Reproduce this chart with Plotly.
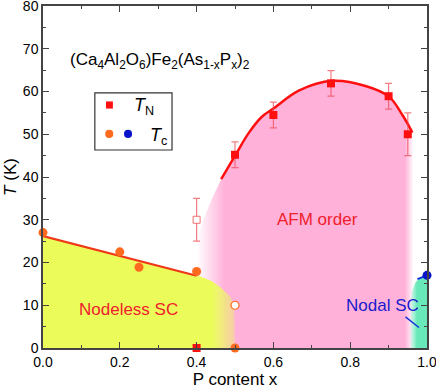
import plotly.graph_objects as go

# --- data ---
tn_x = [0.5, 0.6, 0.75, 0.9, 0.95]
tn_y = [45.2, 54.5, 61.9, 58.9, 50.0]
tn_err = [3, 3, 3, 3, 5]

tn_open_x = [0.4]
tn_open_y = [30]
tn_open_err = [5]

tn_zero_x = [0.4]
tn_zero_y = [0]

tc_x = [0.0, 0.2, 0.25, 0.4, 0.5]
tc_y = [27.0, 22.5, 18.9, 17.9, 0.0]

tc_open_x = [0.5]
tc_open_y = [10]

tc_nodal_x = [1.0]
tc_nodal_y = [17]

# fitted curves
tn_fit_x = [0.464, 0.501, 0.535, 0.570, 0.600, 0.666, 0.753, 0.840, 0.901, 0.936, 0.962]
tn_fit_y = [39.5, 45.1, 50.2, 54.1, 56.0, 60.2, 62.5, 61.3, 58.8, 54.5, 50.4]
tc_fit_x = [0.0, 0.4]
tc_fit_y = [26.2, 16.9]
nodal_fit_x = [0.975, 1.0]
nodal_fit_y = [16.1, 17.0]
pointer_x = [0.944, 0.979]
pointer_y = [7.3, 4.8]

# phase regions
afm_left_x = [0.40, 0.40]
afm_left_y = [0, 24]
afm_right_x = [0.962]
afm_right_y = [0]

nodeless_x = [0.0, 0.0, 0.4, 0.41, 0.44, 0.462, 0.488, 0.498, 0.5]
nodeless_y = [0.0, 26.2, 16.9, 16.7, 15.6, 14.2, 12.0, 10.0, 0.0]

nodal_x = [0.957, 0.957, 0.962, 0.97, 0.98, 0.99, 1.0, 1.0]
nodal_y = [0.0, 10.5, 13.5, 15.3, 16.3, 16.8, 17.0, 0.0]

FONT = "Liberation Sans, Arial, sans-serif"
PINK = "255,177,217"
YELLOW = "235,252,90"
GREEN = "105,233,186"
RED = "#ff1010"
ORANGE = "#ff6a1f"
BLUE = "#0a14c8"
ERR = "rgba(240,70,80,0.7)"

fig = go.Figure()

# AFM region (pink, faded left and right edges)
fig.add_trace(go.Scatter(
    x=afm_left_x + tn_fit_x + afm_right_x,
    y=afm_left_y + tn_fit_y + afm_right_y,
    mode="none", fill="toself", line_shape="spline",
    fillgradient=dict(type="horizontal", start=0.40, stop=0.965,
                      colorscale=[[0, f"rgba({PINK},0)"], [0.13, f"rgba({PINK},1)"],
                                  [0.96, f"rgba({PINK},1)"], [1, f"rgba({PINK},0)"]]),
    hoverinfo="skip", showlegend=False))

# nodeless SC region (yellow)
fig.add_trace(go.Scatter(
    x=nodeless_x, y=nodeless_y, mode="none", fill="toself",
    fillgradient=dict(type="horizontal", start=0.0, stop=0.5,
                      colorscale=[[0, f"rgba({YELLOW},1)"], [0.88, f"rgba({YELLOW},1)"],
                                  [1, f"rgba({YELLOW},0.35)"]]),
    hoverinfo="skip", showlegend=False))

# nodal SC region (green)
fig.add_trace(go.Scatter(
    x=nodal_x, y=nodal_y, mode="none", fill="toself",
    fillgradient=dict(type="horizontal", start=0.953, stop=1.0,
                      colorscale=[[0, f"rgba({GREEN},0)"], [0.45, f"rgba({GREEN},1)"],
                                  [1, f"rgba({GREEN},1)"]]),
    hoverinfo="skip", showlegend=False))

# fit lines
fig.add_trace(go.Scatter(x=tn_fit_x, y=tn_fit_y, mode="lines", line_shape="spline",
                         line=dict(color=RED, width=2.5), showlegend=False))
fig.add_trace(go.Scatter(x=tc_fit_x, y=tc_fit_y, mode="lines",
                         line=dict(color="#f03818", width=2.2), showlegend=False))
fig.add_trace(go.Scatter(x=nodal_fit_x, y=nodal_fit_y, mode="lines",
                         line=dict(color="#1530d8", width=2), showlegend=False))
fig.add_trace(go.Scatter(x=pointer_x, y=pointer_y, mode="lines",
                         line=dict(color="#1530d8", width=1.5), showlegend=False))

# T_N points
fig.add_trace(go.Scatter(
    x=tn_x, y=tn_y, mode="markers",
    error_y=dict(type="data", array=tn_err, color=ERR, thickness=1.2, width=3.5),
    marker=dict(symbol="square", size=8, color=RED), showlegend=False))
fig.add_trace(go.Scatter(
    x=tn_open_x, y=tn_open_y, mode="markers",
    error_y=dict(type="data", array=tn_open_err, color=ERR, thickness=1.2, width=3.5),
    marker=dict(symbol="square", size=7, color="white", line=dict(color="#f07070", width=1)),
    showlegend=False))
fig.add_trace(go.Scatter(
    x=tn_zero_x, y=tn_zero_y, mode="markers", cliponaxis=False,
    marker=dict(symbol="square", size=8, color=RED), showlegend=False))

# T_c points
fig.add_trace(go.Scatter(
    x=tc_x, y=tc_y, mode="markers", cliponaxis=False,
    marker=dict(symbol="circle", size=9, color=ORANGE), showlegend=False))
fig.add_trace(go.Scatter(
    x=tc_open_x, y=tc_open_y, mode="markers",
    marker=dict(symbol="circle", size=8, color="white", line=dict(color=ORANGE, width=1.2)),
    showlegend=False))
fig.add_trace(go.Scatter(
    x=tc_nodal_x, y=tc_nodal_y, mode="markers", cliponaxis=False,
    marker=dict(symbol="circle", size=9, color=BLUE), showlegend=False))

axis_common = dict(showline=True, linecolor="#444", linewidth=1.5, mirror="ticks",
                   ticks="inside", ticklen=6, tickwidth=1.3, tickcolor="#444",
                   showgrid=False, zeroline=False, ticklabeloverflow="allow",
                   tickfont=dict(family=FONT, size=14, color="black"))

fig.update_xaxes(range=[0, 1], dtick=0.2, tickformat=".1f",
                 minor=dict(dtick=0.1, ticks="inside", ticklen=3, tickcolor="#444"),
                 title=dict(text="P content x", font=dict(family=FONT, size=17, color="black"),
                            standoff=4),
                 **axis_common)
fig.update_yaxes(range=[0, 80], dtick=10,
                 minor=dict(dtick=5, ticks="inside", ticklen=3, tickcolor="#444"),
                 title=dict(text="<i>T</i> (K)", font=dict(family=FONT, size=17, color="black"),
                            standoff=2),
                 **axis_common)

annotations = [
    dict(x=0.065, y=67.2, xref="x", yref="y", xanchor="left",
         text="(Ca<sub>4</sub>Al<sub>2</sub>O<sub>6</sub>)Fe<sub>2</sub>(As<sub>1-x</sub>P<sub>x</sub>)<sub>2</sub>",
         font=dict(family=FONT, size=17, color="black")),
    dict(x=0.714, y=30, xref="x", yref="y", text="AFM order",
         font=dict(family=FONT, size=17, color="#f0202c")),
    dict(x=0.222, y=9.1, xref="x", yref="y", text="Nodeless SC",
         font=dict(family=FONT, size=17, color="#f0202c")),
    dict(x=0.883, y=9.9, xref="x", yref="y", text="Nodal SC",
         font=dict(family=FONT, size=17, color="#1a1acc")),
    # legend labels
    dict(x=0.232, y=0.705, xref="paper", yref="paper", xanchor="left", yanchor="middle",
         text="<i>T</i><sub>N</sub>", font=dict(family=FONT, size=18, color="black")),
    dict(x=0.274, y=0.617, xref="paper", yref="paper", xanchor="left", yanchor="middle",
         text="<i>T</i><sub>c</sub>", font=dict(family=FONT, size=18, color="black")),
]
for a in annotations:
    a["showarrow"] = False

shapes = [
    # legend box
    dict(type="rect", xref="paper", yref="paper", x0=0.135, x1=0.336, y0=0.579, y1=0.746,
         line=dict(color="#333", width=1.2), fillcolor="white", layer="above"),
    dict(type="rect", xref="paper", yref="paper", x0=0.164, x1=0.182, y0=0.700, y1=0.721,
         line=dict(width=0), fillcolor=RED, layer="above"),
    dict(type="circle", xref="paper", yref="paper", x0=0.162, x1=0.183, y0=0.614, y1=0.638,
         line=dict(width=0), fillcolor=ORANGE, layer="above"),
    dict(type="circle", xref="paper", yref="paper", x0=0.211, x1=0.232, y0=0.614, y1=0.638,
         line=dict(width=0), fillcolor=BLUE, layer="above"),
]

fig.update_layout(
    width=436, height=389,
    margin=dict(l=43, r=9, t=6, b=41, autoexpand=False),
    plot_bgcolor="white", paper_bgcolor="white",
    font=dict(family=FONT),
    annotations=annotations, shapes=shapes,
    showlegend=False,
)

# drop the default page margin so the figure sits at the window's corner
fig.write_html("out.html", config={"displayModeBar": False},
               post_script="document.body.style.margin='0';")
